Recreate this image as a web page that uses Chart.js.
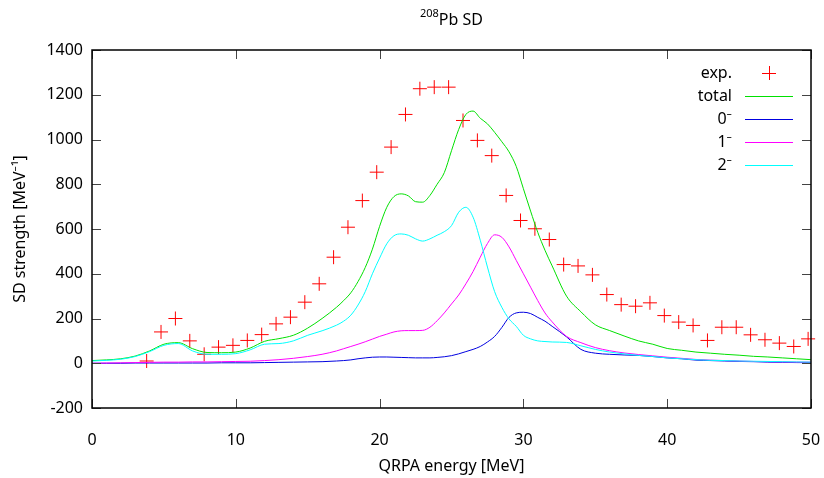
<!DOCTYPE html>
<html>
<head>
<meta charset="utf-8">
<script src="https://cdn.jsdelivr.net/npm/chart.js@4.4.1/dist/chart.umd.min.js"></script>
<style>
  html, body { margin: 0; padding: 0; background: #fff; }
  #wrap { width: 824px; height: 478px; }
</style>
</head>
<body>
<div id="wrap"><canvas id="chart" width="824" height="478"></canvas></div>
<script>
// energy grid for the QRPA curves (MeV)
const energy = [0, 1, 2, 3, 4, 5, 6, 7, 8, 9, 10, 11, 12, 13, 14, 15, 16, 17,
  17.5, 18, 18.5, 19, 19.5, 20, 20.5, 21, 21.5, 22, 22.5, 23, 23.5, 24, 24.5, 25,
  25.5, 26, 26.5, 27, 27.5, 28, 28.5, 29, 29.5, 30, 30.5, 31, 31.5, 32,
  33, 34, 35, 36, 37, 38, 39, 40, 41, 42, 43, 44, 45, 46, 47, 48, 49, 50];

const total = [12, 15, 20, 32, 55, 85, 92, 65, 48, 47, 50, 68, 98, 110, 125, 157, 200, 250,
  280, 315, 365, 428, 510, 612, 697, 745, 757, 748, 722, 720, 750, 800, 852, 950,
  1045, 1112, 1127, 1095, 1070, 1032, 990, 945, 880, 780, 680, 585, 505, 435,
  300, 230, 172, 146, 122, 100, 85, 66, 58, 50, 45, 40, 36, 31, 28, 24, 20, 16];

const jp0 = [0, 0, 0, 1, 1, 1, 1, 1, 1, 2, 2, 2, 3, 4, 5, 6, 7, 10,
  12, 15, 20, 24, 27, 28, 28, 27, 26, 25, 24, 24, 24, 26, 29, 34,
  42, 52, 62, 75, 95, 120, 160, 205, 225, 228, 222, 205, 188, 165,
  118, 62, 45, 40, 37, 35, 30, 24, 20, 14, 12, 10, 8, 7, 5, 4, 3, 3];

const jp1 = [0, 1, 2, 3, 4, 5, 5, 6, 6, 7, 8, 9, 12, 16, 22, 30, 40, 55,
  65, 75, 85, 96, 108, 120, 130, 140, 145, 146, 146, 147, 161, 190, 225, 265,
  305, 355, 410, 474, 535, 574, 563, 520, 460, 400, 340, 280, 225, 185,
  120, 92, 70, 56, 46, 39, 33, 27, 22, 17, 14, 12, 10, 8, 7, 6, 5, 5];

const jp2 = [10, 13, 18, 30, 52, 80, 88, 55, 40, 40, 43, 60, 85, 88, 100, 125, 145, 170,
  188, 215, 260, 320, 400, 470, 534, 570, 578, 572, 556, 546, 556, 572, 588, 615,
  675, 697, 653, 550, 430, 320, 250, 198, 165, 125, 109, 100, 97, 95,
  93, 78, 62, 50, 42, 35, 30, 24, 20, 16, 13, 12, 10, 9, 8, 7, 6, 5];

// experimental points
const expEnergy = [3.8, 4.8, 5.8, 6.8, 7.8, 8.8, 9.8, 10.8, 11.8, 12.8, 13.8, 14.8, 15.8,
  16.8, 17.8, 18.8, 19.8, 20.8, 21.8, 22.8, 23.8, 24.8, 25.8, 26.8, 27.8, 28.8,
  29.8, 30.8, 31.8, 32.8, 33.8, 34.8, 35.8, 36.8, 37.8, 38.8, 39.8, 40.8, 41.8,
  42.8, 43.8, 44.8, 45.8, 46.8, 47.8, 48.8, 49.8];
const expStrength = [10, 140, 200, 100, 40, 72, 80, 102, 128, 176, 206, 273, 355,
  474, 608, 727, 854, 966, 1112, 1227, 1234, 1234, 1085, 996, 928, 750,
  638, 601, 553, 441, 435, 395, 307, 262, 255, 270, 213, 184, 169,
  102, 161, 161, 127, 105, 90, 75, 109];

const xTicks = [0, 10, 20, 30, 40, 50];
const yTicks = [-200, 0, 200, 400, 600, 800, 1000, 1200, 1400];

const FONT = "'Noto Sans', 'DejaVu Sans', sans-serif";

function pairs(xs, ys) {
  return xs.map((x, i) => ({ x: x, y: ys[i] }));
}

function curve(label, values, color, order) {
  return {
    label: label,
    data: pairs(energy, values),
    borderColor: color,
    backgroundColor: color,
    borderWidth: 1,
    pointRadius: 0,
    showLine: true,
    cubicInterpolationMode: "monotone",
    order: order
  };
}

// gnuplot-like frame with inward ticks on all four sides
const framePlugin = {
  id: "frame",
  afterDatasetsDraw(chart) {
    const { ctx, chartArea: a, scales } = chart;
    ctx.save();
    ctx.strokeStyle = "#444";
    ctx.lineWidth = 1;
    const len = 9;
    ctx.beginPath();
    scales.y.ticks.forEach(t => {
      const py = Math.round(scales.y.getPixelForValue(t.value)) + 0.5;
      ctx.moveTo(a.left, py); ctx.lineTo(a.left + len, py);
      ctx.moveTo(a.right, py); ctx.lineTo(a.right - len, py);
    });
    scales.x.ticks.forEach(t => {
      const px = Math.round(scales.x.getPixelForValue(t.value)) + 0.5;
      ctx.moveTo(px, a.bottom); ctx.lineTo(px, a.bottom - len);
      ctx.moveTo(px, a.top); ctx.lineTo(px, a.top + len);
    });
    ctx.stroke();
    ctx.strokeStyle = "#000";
    ctx.lineWidth = 1.5;
    ctx.strokeRect(a.left, a.top, a.right - a.left, a.bottom - a.top);
    ctx.restore();
  },
  afterDraw(chart) {
    const { ctx, chartArea: a } = chart;
    ctx.save();
    ctx.fillStyle = "#000";
    // title with superscript mass number
    const cx = (a.left + a.right) / 2;
    ctx.font = "11px " + FONT;
    const w1 = ctx.measureText("208").width;
    ctx.font = "16px " + FONT;
    const w2 = ctx.measureText("Pb SD").width;
    const x0 = cx - (w1 + w2) / 2;
    ctx.textBaseline = "alphabetic";
    ctx.textAlign = "left";
    ctx.font = "11px " + FONT;
    ctx.fillText("208", x0, 17);
    ctx.font = "16px " + FONT;
    ctx.fillText("Pb SD", x0 + w1, 25);

    // legend, text right-aligned with the sample to its right
    const textRight = 732, s0 = 745, s1 = 793;
    let yy = 73;
    ctx.textAlign = "right";
    ctx.textBaseline = "middle";
    chart.data.datasets.forEach(ds => {
      ctx.fillStyle = "#000";
      ctx.fillText(ds.label, textRight, yy);
      ctx.strokeStyle = ds.borderColor;
      ctx.lineWidth = 1;
      ctx.beginPath();
      if (ds.pointStyle === "cross") {
        const mx = (s0 + s1) / 2;
        ctx.moveTo(mx - 7, yy + 0.5); ctx.lineTo(mx + 7, yy + 0.5);
        ctx.moveTo(mx + 0.5, yy - 7); ctx.lineTo(mx + 0.5, yy + 7);
      } else {
        ctx.moveTo(s0, Math.round(yy) + 0.5); ctx.lineTo(s1, Math.round(yy) + 0.5);
      }
      ctx.stroke();
      yy += 23;
    });
    ctx.restore();
  }
};

new Chart(document.getElementById("chart"), {
  type: "scatter",
  data: {
    datasets: [
      {
        label: "exp.",
        data: pairs(expEnergy, expStrength),
        pointStyle: "cross",
        pointRadius: 7,
        pointBorderWidth: 1,
        borderColor: "#ff0000",
        backgroundColor: "#ff0000",
        showLine: false,
        clip: false,
        order: 5
      },
      curve("total", total, "#00e000", 4),
      curve("0\u207B", jp0, "#0000e0", 3),
      curve("1\u207B", jp1, "#ff00ff", 2),
      curve("2\u207B", jp2, "#00ffff", 1)
    ]
  },
  options: {
    responsive: false,
    animation: false,
    layout: { padding: { top: 50, right: 13, left: 0, bottom: 0 } },
    plugins: {
      legend: { display: false },
      title: { display: false },
      tooltip: { enabled: false }
    },
    scales: {
      x: {
        type: "linear",
        min: 0,
        max: 50,
        afterBuildTicks: s => { s.ticks = xTicks.map(v => ({ value: v })); },
        afterFit: s => { s.height = 70; s.paddingLeft = 0; s.paddingRight = 0; },
        grid: { display: false },
        border: { display: false },
        ticks: {
          color: "#000",
          padding: 15,
          font: { family: FONT, size: 16 },
          callback: v => String(v)
        },
        title: {
          display: true,
          text: "QRPA energy [MeV]",
          color: "#000",
          padding: { top: 0, bottom: 2 },
          font: { family: FONT, size: 16 }
        }
      },
      y: {
        type: "linear",
        min: -200,
        max: 1400,
        afterBuildTicks: s => { s.ticks = yTicks.map(v => ({ value: v })); },
        afterFit: s => { s.width = 92; s.paddingTop = 0; s.paddingBottom = 0; },
        grid: { display: false },
        border: { display: false },
        ticks: {
          color: "#000",
          padding: 1,
          font: { family: FONT, size: 16 },
          callback: v => String(v)
        },
        title: {
          display: true,
          text: "SD strength [MeV\u207B\u00B9]",
          color: "#000",
          padding: { top: 11, bottom: 0 },
          font: { family: FONT, size: 16 }
        }
      }
    }
  },
  plugins: [framePlugin]
});
</script>
</body>
</html>
